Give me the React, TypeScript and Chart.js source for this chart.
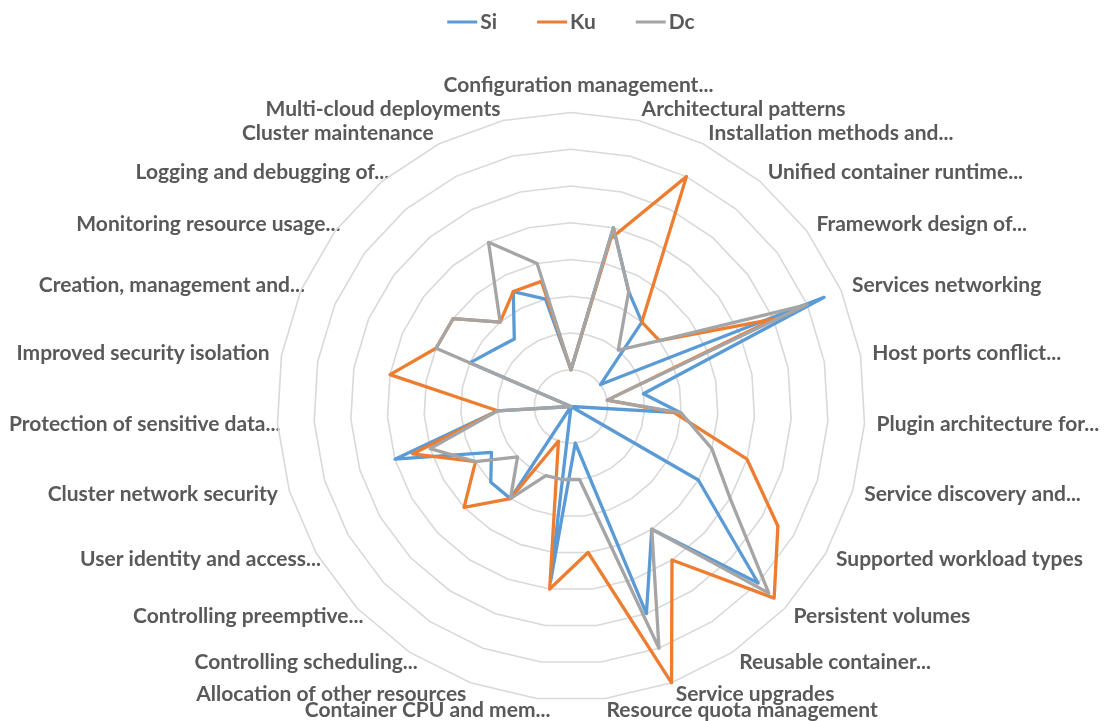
import React, { useEffect, useRef } from 'react';
import { Chart, registerables } from 'chart.js';

Chart.register(...registerables);

const categories: string[] = [
  'Configuration management...',
  'Architectural patterns',
  'Installation methods and...',
  'Unified container runtime...',
  'Framework design of...',
  'Services networking',
  'Host ports conflict...',
  'Plugin architecture for...',
  'Service discovery and...',
  'Supported workload types',
  'Persistent volumes',
  'Reusable container...',
  'Service upgrades',
  'Resource quota management',
  'Container CPU and mem...',
  'Allocation of other resources',
  'Controlling scheduling...',
  'Controlling preemptive...',
  'User identity and access...',
  'Cluster network security',
  'Protection of sensitive data...',
  'Improved security isolation',
  'Creation, management and...',
  'Monitoring resource usage...',
  'Logging and debugging of...',
  'Cluster maintenance',
  'Multi-cloud deployments',
];

const seriesNames = ['Si', 'Ku', 'Dc'];
const siValues = [1, 5, 3.5, 3, 1, 7.5, 2, 3, 0, 4, 7, 4, 6, 1, 4.8, 0, 3, 3, 2.5, 5, 2, 0, 3, 2.6, 2.4, 3.5, 3];
const kuValues = [1, 4.7, 7, 3, 3, 6, 1, 2.8, 5, 6.5, 7.6, 5, 8, 4, 5, 1, 3, 4, 3, 4.5, 2, 5, 4, 4, 3, 3.5, 3.5];
const dcValues = [1, 5, 3.5, 2, 3, 7, 1, 3, 4, 5, 7.4, 4, 7, 2, 2, 2, 3, 2, 3, 4, 2, 0, 4, 4, 3, 5, 4];

const scaleMin = 0;
const scaleMax = 8;
const scaleStep = 1;

const COLORS = ['#5B9BD5', '#ED7D31', '#A5A5A5'];
const TEXT_COLOR = '#595959';
const FONT_FAMILY = 'Lato, "Open Sans", sans-serif';
const FONT_SIZE = 21;
const FONT_WEIGHT = 'bold';

// layout of the plot
const CENTER_X = 571;
const CENTER_Y = 406.5;
const RADIUS = 294;
const LABEL_PAD = 12;
const LEGEND_Y = 22;

function fontString() {
  return `${FONT_WEIGHT} ${FONT_SIZE}px ${FONT_FAMILY}`;
}

function placeScale(scale: any) {
  scale.xCenter = CENTER_X;
  scale.yCenter = CENTER_Y;
  scale.drawingArea = RADIUS;
  const ctx: CanvasRenderingContext2D = scale.ctx;
  ctx.save();
  ctx.font = fontString();
  const ell = ctx.measureText('...').width;
  const n = scale._pointLabels.length;
  const lineHeight = FONT_SIZE * 1.2;
  scale._pointLabelItems = scale._pointLabels.map((label: string, i: number) => {
    const pos = scale.getPointPosition(i, RADIUS + LABEL_PAD);
    const deg = Math.round(((i * 360) / n) * 1000) / 1000;
    const w = ctx.measureText(label).width;
    const trunc = label.endsWith('...') ? ell : 0;
    let x = pos.x;
    let cy = pos.y;
    let align: CanvasTextAlign;
    let left: number;
    if (deg === 0) {
      align = 'center';
      x += trunc / 2;
      cy -= FONT_SIZE * 0.75;
      left = x - w / 2;
    } else if (deg === 180) {
      align = 'center';
      left = x - w / 2;
    } else if (deg < 180) {
      align = 'left';
      left = x;
    } else {
      align = 'right';
      x += trunc;
      left = x - w;
    }
    const top = cy - lineHeight / 2;
    return { visible: true, x, y: top, textAlign: align, left, top, right: left + w, bottom: top + lineHeight };
  });
  ctx.restore();
}

const legendPlugin = {
  id: 'excelLegend',
  afterDraw(chart: any) {
    const ctx: CanvasRenderingContext2D = chart.ctx;
    const r = chart.scales.r;
    const lineLen = 30;
    const gap = 3;
    const spacing = 40;
    ctx.save();
    ctx.font = fontString();
    const items = chart.data.datasets.map((ds: any) => ({
      text: ds.label as string,
      color: ds.borderColor as string,
      w: lineLen + gap + ctx.measureText(ds.label).width,
    }));
    const total = items.reduce((s: number, it: any) => s + it.w, 0) + spacing * (items.length - 1);
    let x = r.xCenter - total / 2;
    for (const it of items) {
      ctx.strokeStyle = it.color;
      ctx.lineWidth = 3;
      ctx.lineCap = 'butt';
      ctx.beginPath();
      ctx.moveTo(x, LEGEND_Y);
      ctx.lineTo(x + lineLen, LEGEND_Y);
      ctx.stroke();
      ctx.fillStyle = TEXT_COLOR;
      ctx.textAlign = 'left';
      ctx.textBaseline = 'middle';
      ctx.fillText(it.text, x + lineLen + gap, LEGEND_Y);
      x += it.w + spacing;
    }
    ctx.restore();
  },
};

export default function App() {
  const canvasRef = useRef<HTMLCanvasElement | null>(null);

  useEffect(() => {
    if (!canvasRef.current) return;
    const valueSets = [siValues, kuValues, dcValues];
    const chart = new Chart(canvasRef.current, {
      type: 'radar',
      data: {
        labels: categories,
        datasets: seriesNames.map((name, i) => ({
          label: name,
          data: valueSets[i],
          borderColor: COLORS[i],
          backgroundColor: COLORS[i],
          borderWidth: 3.3,
          fill: false,
          pointRadius: 0,
          pointHoverRadius: 0,
          pointHitRadius: 0,
          tension: 0,
          borderJoinStyle: 'round' as const,
          order: seriesNames.length - i,
        })),
      },
      options: {
        animation: false,
        responsive: false,
        maintainAspectRatio: false,
        events: [],
        plugins: {
          legend: { display: false },
          tooltip: { enabled: false },
        },
        scales: {
          r: {
            min: scaleMin,
            max: scaleMax,
            ticks: { stepSize: scaleStep, display: false },
            grid: { color: '#D9D9D9', lineWidth: 1.6 },
            angleLines: { display: false },
            pointLabels: {
              display: true,
              color: TEXT_COLOR,
              font: { family: FONT_FAMILY, size: FONT_SIZE, weight: FONT_WEIGHT as any },
            },
            afterFit: placeScale,
          } as any,
        },
      },
      plugins: [legendPlugin],
    });
    return () => chart.destroy();
  }, []);

  return (
    <div style={{ position: 'fixed', left: 0, top: 0, width: 1105, height: 721, background: '#fff' }}>
      <canvas ref={canvasRef} width={1105} height={721} style={{ width: 1105, height: 721, display: 'block' }} />
    </div>
  );
}
